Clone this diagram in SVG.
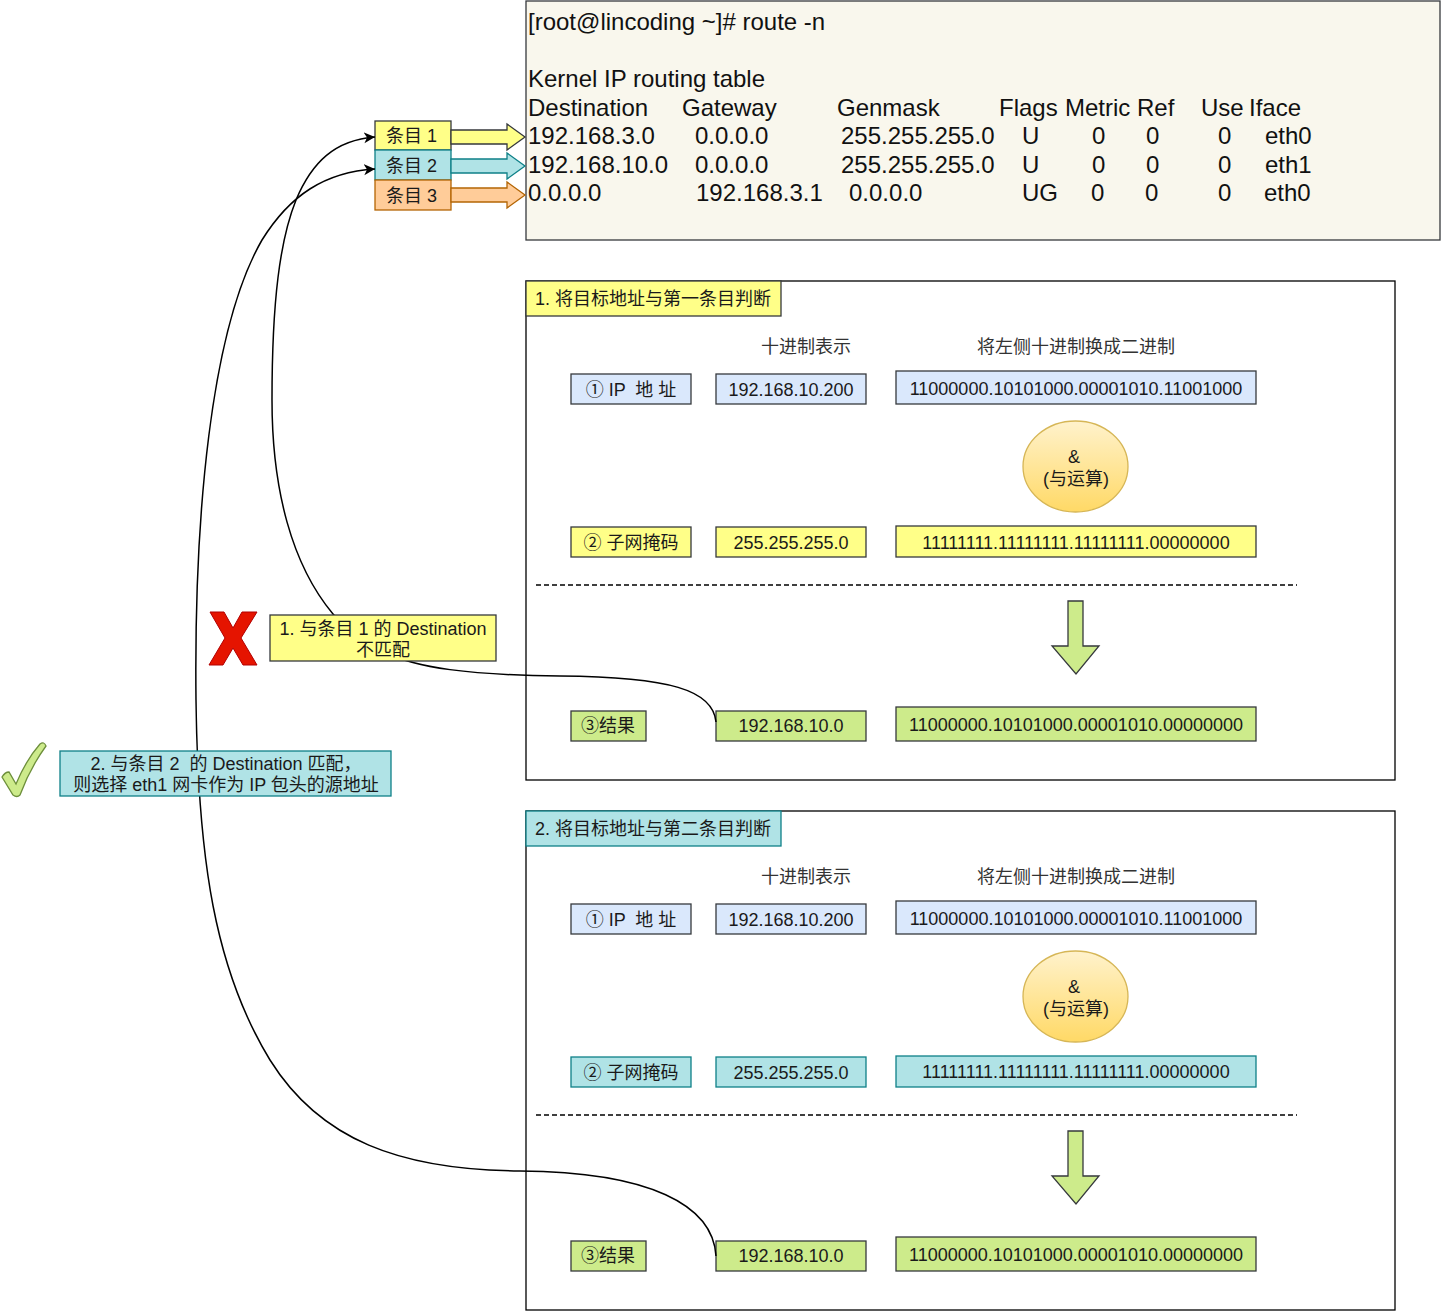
<svg xmlns="http://www.w3.org/2000/svg" width="1442" height="1311" viewBox="0 0 1442 1311">
<defs>
<style>
text{font-family:"Liberation Sans","Noto Sans CJK SC",sans-serif;fill:#1a1a1a;white-space:pre}
.t18{font-size:18px}
.mid{text-anchor:middle}
.term{font-size:24px;fill:#111}
.yel{fill:#ffff88;stroke:#36393d;stroke-width:1.3}
.cyan{fill:#b0e3e6;stroke:#0e8088;stroke-width:1.3}
.org{fill:#ffcc99;stroke:#b46504;stroke-width:1.3}
.blue{fill:#dae8fc;stroke:#36393d;stroke-width:1.3}
.grn{fill:#cdeb8b;stroke:#36393d;stroke-width:1.3}
.sec{fill:#ffffff;stroke:#000;stroke-width:1.3}
.dash{stroke:#000;stroke-width:1.3;stroke-dasharray:5 3;fill:none}
.conn{fill:none;stroke:#000;stroke-width:1.5}
.hdr{fill:#333}
</style>
<linearGradient id="gold" x1="0" y1="0" x2="0" y2="1">
<stop offset="0" stop-color="#fff2cc"/>
<stop offset="1" stop-color="#ffd966"/>
</linearGradient>
<marker id="arr" markerWidth="12" markerHeight="12" refX="11" refY="6" orient="auto" markerUnits="userSpaceOnUse">
<path d="M0,0.5 L11,6 L0,11.5 L3,6 Z" fill="#000"/>
</marker>
</defs>

<rect width="1442" height="1311" fill="#ffffff"/>

<!-- terminal -->
<g id="terminal">
<rect x="526" y="1" width="914" height="239" fill="#f9f7ed" stroke="#36393d" stroke-width="1.3"/>
<text class="term" x="528" y="30">[root@lincoding ~]# route -n</text>
<text class="term" x="528" y="87">Kernel IP routing table</text>
<text class="term" x="528" y="116">Destination</text>
<text class="term" x="682" y="116">Gateway</text>
<text class="term" x="837" y="116">Genmask</text>
<text class="term" x="999" y="116">Flags</text>
<text class="term" x="1065" y="116">Metric</text>
<text class="term" x="1137" y="116">Ref</text>
<text class="term" x="1201" y="116">Use</text>
<text class="term" x="1249" y="116">Iface</text>
<text class="term" x="528" y="144">192.168.3.0</text>
<text class="term" x="695" y="144">0.0.0.0</text>
<text class="term" x="841" y="144">255.255.255.0</text>
<text class="term" x="1022" y="144">U</text>
<text class="term" x="1092" y="144">0</text>
<text class="term" x="1146" y="144">0</text>
<text class="term" x="1218" y="144">0</text>
<text class="term" x="1265" y="144">eth0</text>
<text class="term" x="528" y="173">192.168.10.0</text>
<text class="term" x="695" y="173">0.0.0.0</text>
<text class="term" x="841" y="173">255.255.255.0</text>
<text class="term" x="1022" y="173">U</text>
<text class="term" x="1092" y="173">0</text>
<text class="term" x="1146" y="173">0</text>
<text class="term" x="1218" y="173">0</text>
<text class="term" x="1265" y="173">eth1</text>
<text class="term" x="528" y="201">0.0.0.0</text>
<text class="term" x="696" y="201">192.168.3.1</text>
<text class="term" x="849" y="201">0.0.0.0</text>
<text class="term" x="1022" y="201">UG</text>
<text class="term" x="1091" y="201">0</text>
<text class="term" x="1145" y="201">0</text>
<text class="term" x="1218" y="201">0</text>
<text class="term" x="1264" y="201">eth0</text>
</g>

<!-- entries -->
<g id="entry1">
<rect class="yel" x="375" y="121" width="76" height="29"/>
<text class="t18" x="386" y="142">条目 1</text>
<path class="yel" d="M451,130 L507,130 L507,124 L525,137 L507,150 L507,144 L451,144 Z"/>
</g>
<g id="entry2">
<rect class="cyan" x="375" y="150" width="76" height="30"/>
<text class="t18" x="386" y="172">条目 2</text>
<path class="cyan" d="M451,159 L507,159 L507,153 L525,166 L507,179 L507,173 L451,173 Z"/>
</g>
<g id="entry3">
<rect class="org" x="375" y="180" width="76" height="30"/>
<text class="t18" x="386" y="202">条目 3</text>
<path class="org" d="M451,188 L507,188 L507,182 L525,195 L507,208 L507,202 L451,202 Z"/>
</g>

<!-- section 1 -->
<g id="section1">
<rect class="sec" x="526" y="281" width="869" height="499"/>
<rect class="yel" x="526" y="281" width="255" height="35"/>
<text class="t18" x="535" y="305">1. 将目标地址与第一条目判断</text>
<text class="t18 mid hdr" x="806" y="353">十进制表示</text>
<text class="t18 mid hdr" x="1076" y="353">将左侧十进制换成二进制</text>
<rect class="blue" x="571" y="374" width="120" height="30"/>
<text class="t18 mid" x="631" y="396">① IP  地 址</text>
<rect class="blue" x="716" y="374" width="150" height="30"/>
<text class="t18 mid" x="791" y="396">192.168.10.200</text>
<rect class="blue" x="896" y="371" width="360" height="33"/>
<text class="t18 mid" x="1076" y="395">11000000.10101000.00001010.11001000</text>
<ellipse cx="1075.5" cy="466.5" rx="52.5" ry="45.5" fill="url(#gold)" stroke="#d6b656" stroke-width="1.3"/>
<text class="t18 mid" x="1074" y="463">&amp;</text>
<text class="t18 mid" x="1076" y="485">(与运算)</text>
<rect class="yel" x="571" y="527" width="120" height="30"/>
<text class="t18 mid" x="631" y="549">② 子网掩码</text>
<rect class="yel" x="716" y="527" width="150" height="30"/>
<text class="t18 mid" x="791" y="549">255.255.255.0</text>
<rect class="yel" x="896" y="526" width="360" height="31"/>
<text class="t18 mid" x="1076" y="549">11111111.11111111.11111111.00000000</text>
<line class="dash" x1="536" y1="585" x2="1297" y2="585"/>
<path class="grn" d="M1068,601 L1083,601 L1083,646 L1099,646 L1076,674 L1052,646 L1068,646 Z"/>
<rect class="grn" x="571" y="711" width="75" height="30"/>
<text class="t18 mid" x="608" y="732">③结果</text>
<rect class="grn" x="716" y="711" width="150" height="30"/>
<text class="t18 mid" x="791" y="732">192.168.10.0</text>
<rect class="grn" x="896" y="707" width="360" height="34"/>
<text class="t18 mid" x="1076" y="731">11000000.10101000.00001010.00000000</text>
</g>

<!-- section 2 -->
<g id="section2">
<rect class="sec" x="526" y="811" width="869" height="499"/>
<rect class="cyan" x="526" y="811" width="255" height="35"/>
<text class="t18" x="535" y="835">2. 将目标地址与第二条目判断</text>
<text class="t18 mid hdr" x="806" y="883">十进制表示</text>
<text class="t18 mid hdr" x="1076" y="883">将左侧十进制换成二进制</text>
<rect class="blue" x="571" y="904" width="120" height="30"/>
<text class="t18 mid" x="631" y="926">① IP  地 址</text>
<rect class="blue" x="716" y="904" width="150" height="30"/>
<text class="t18 mid" x="791" y="926">192.168.10.200</text>
<rect class="blue" x="896" y="901" width="360" height="33"/>
<text class="t18 mid" x="1076" y="925">11000000.10101000.00001010.11001000</text>
<ellipse cx="1075.5" cy="996.5" rx="52.5" ry="45.5" fill="url(#gold)" stroke="#d6b656" stroke-width="1.3"/>
<text class="t18 mid" x="1074" y="993">&amp;</text>
<text class="t18 mid" x="1076" y="1015">(与运算)</text>
<rect class="cyan" x="571" y="1057" width="120" height="30"/>
<text class="t18 mid" x="631" y="1079">② 子网掩码</text>
<rect class="cyan" x="716" y="1057" width="150" height="30"/>
<text class="t18 mid" x="791" y="1079">255.255.255.0</text>
<rect class="cyan" x="896" y="1056" width="360" height="31"/>
<text class="t18 mid" x="1076" y="1078">11111111.11111111.11111111.00000000</text>
<line class="dash" x1="536" y1="1115" x2="1297" y2="1115"/>
<path class="grn" d="M1068,1131 L1083,1131 L1083,1176 L1099,1176 L1076,1204 L1052,1176 L1068,1176 Z"/>
<rect class="grn" x="571" y="1241" width="75" height="30"/>
<text class="t18 mid" x="608" y="1262">③结果</text>
<rect class="grn" x="716" y="1241" width="150" height="30"/>
<text class="t18 mid" x="791" y="1262">192.168.10.0</text>
<rect class="grn" x="896" y="1237" width="360" height="34"/>
<text class="t18 mid" x="1076" y="1261">11000000.10101000.00001010.00000000</text>
</g>

<!-- connectors -->
<g id="connectors">
<path class="conn" marker-end="url(#arr)" d="M716,722 C713,690 670,677 560,676 C470,675 415,668 385,652 C360,640 345,628 333,614 C292,565 272,490 272,400 C272,300 280,240 296,200 C312,162 335,140 375,137"/>
<path class="conn" marker-end="url(#arr)" d="M716,1256 C713,1205 650,1172 520,1171 C400,1170 320,1140 270,1060 C215,970 198,860 196,700 C194,520 210,330 262,240 C290,195 325,172 375,169"/>
</g>

<!-- labels -->
<g id="label1">
<rect class="yel" x="270" y="615" width="226" height="46"/>
<text class="t18 mid" x="383" y="635">1. 与条目 1 的 Destination</text>
<text class="t18 mid" x="383" y="656">不匹配</text>
</g>
<g id="label2">
<rect class="cyan" x="60" y="751" width="331" height="45"/>
<text class="t18 mid" x="226" y="770">2. 与条目 2  的 Destination 匹配，</text>
<text class="t18 mid" x="226" y="791">则选择 eth1 网卡作为 IP 包头的源地址</text>
</g>
<g id="cross">
<path d="M210,612 L224,612 L233,628 L242,612 L257,612 L241,638 L257,665 L243,665 L233,648 L223,665 L209,665 L225,638 Z" fill="#e51400" stroke="#b20000" stroke-width="1"/>
</g>
<g id="check">
<path d="M2,777 Q5,772 9,772 L16,784 Q26,760 40,744 Q44,741 46,746 Q30,768 20,795 Q17,798 13,795 Z" fill="#cdeb8b" stroke="#6d8f3b" stroke-width="1.3"/>
</g>
</svg>
